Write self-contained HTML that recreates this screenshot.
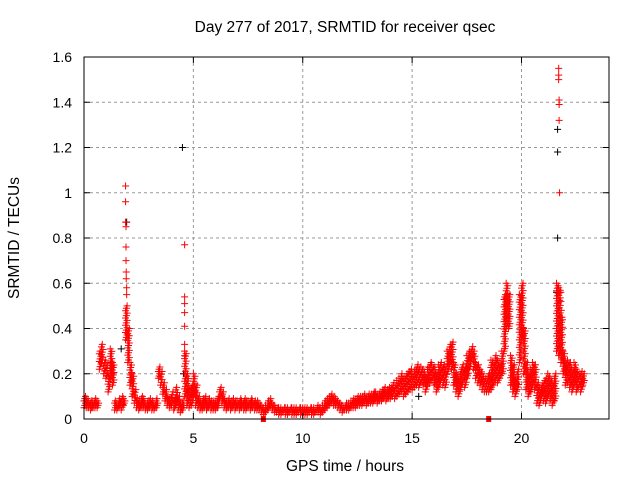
<!DOCTYPE html>
<html><head><meta charset="utf-8"><style>
body{margin:0;background:#fff}
svg{display:block;font-family:"Liberation Sans",Arial,sans-serif}
</style></head><body>
<svg id="chart" width="640" height="480" xmlns="http://www.w3.org/2000/svg">
<rect width="640" height="480" fill="#fff"/>
<text x="345" y="32" font-size="15.5" text-anchor="middle">Day 277 of 2017, SRMTID for receiver qsec</text>
<text transform="translate(19,238) rotate(-90)" font-size="15.5" text-anchor="middle">SRMTID / TECUs</text>
<text x="345" y="471" font-size="15.5" text-anchor="middle">GPS time / hours</text>
<g id="grid"></g><g id="marks"></g><g id="axes"></g>
</svg>
<script>
const xTicks=[0,5,10,15,20];
const yTicks=[0,0.2,0.4,0.6,0.8,1,1.2,1.4,1.6];
const yTickLabels=["0","0.2","0.4","0.6","0.8","1","1.2","1.4","1.6"];
const lowVals=[.05,.05,.05,.04,.05,.05,.05,.22,.25,.20,.18,.12,.18,.15,.04,.04,.05,.04,.06,.35,.25,
.15,.10,.07,.05,.04,.05,.05,.04,.04,.05,.04,.04,.05,.18,.15,.11,.08,.06,.05,.06,.04,.06,.04,.03,.04,
.10,.06,.05,.06,.10,.06,.05,.04,.04,.05,.04,.05,.04,.04,
.04,.05,.09,.07,.05,.04,.05,.04,.05,.04,.05,.04,.05,.04,.04,.05,.04,.05,.04,.04,
.04,.03,.02,.03,.04,.05,.04,.03,.03,.02,.02,.03,.02,.02,.03,.02,.02,.02,.03,.02,
.02,.02,.02,.03,.02,.02,.03,.03,.02,.03,.04,.05,.06,.07,.06,.06,.05,.04,.03,.04,
.04,.04,.05,.05,.05,.06,.06,.06,.07,.06,.07,.07,.07,.08,.07,.08,.08,.09,.08,.09,
.09,.10,.09,.10,.11,.12,.10,.11,.12,.13,.13,.14,.15,.14,.16,.15,.12,.15,.16,.17,
.15,.12,.14,.17,.15,.14,.20,.24,.22,.15,.12,.10,.13,.16,.14,.18,.22,.26,.22,.18,
.16,.15,.13,.12,.12,.12,.13,.15,.17,.16,.18,.20,.30,.40,.40,.15,.12,.10,.13,.25,
.35,.20,.13,.10,.12,.15,.13,.07,.06,.10,
.08,.07,.10,.08,.06,.08,.30,.28,.25,.20,
.15,.16,.14,.12,.15,.12,.14,.12,.15];
const highVals=[.10,.09,.08,.08,.08,.09,.08,.30,.33,.26,.25,.20,.31,.25,.08,.07,.09,.10,.09,.50,.40,
.25,.20,.13,.09,.08,.10,.09,.07,.08,.09,.08,.07,.09,.23,.21,.16,.13,.10,.09,.12,.09,.14,.10,.07,.08,
.30,.20,.13,.15,.20,.15,.10,.08,.09,.10,.08,.09,.08,.08,
.08,.10,.14,.12,.09,.08,.09,.08,.09,.08,.08,.09,.08,.09,.08,.08,.09,.08,.08,.08,
.07,.06,.05,.06,.08,.09,.07,.06,.05,.05,.05,.05,.05,.05,.05,.05,.05,.05,.05,.05,
.05,.05,.05,.05,.05,.05,.05,.06,.05,.06,.08,.09,.10,.11,.10,.09,.08,.07,.06,.06,
.07,.07,.08,.09,.09,.10,.10,.10,.11,.10,.11,.11,.12,.12,.11,.12,.13,.14,.13,.14,
.14,.16,.15,.17,.18,.20,.18,.20,.21,.22,.20,.22,.24,.22,.23,.22,.19,.23,.25,.24,
.23,.20,.24,.25,.24,.22,.30,.33,.34,.25,.20,.18,.22,.24,.23,.28,.30,.32,.30,.25,
.24,.22,.20,.18,.18,.20,.26,.25,.28,.26,.24,.30,.55,.60,.55,.28,.24,.18,.22,.55,
.60,.40,.25,.20,.22,.25,.24,.16,.14,.15,
.17,.18,.20,.18,.16,.20,.60,.58,.45,.30,
.25,.26,.25,.22,.25,.22,.20,.21,.20];
const sampleStep=0.1;
const spikeTimes=[1.9,1.9,1.9,1.92,1.92,1.92,1.93,1.93,1.95,1.95,4.6,4.6,4.6,4.6,4.6,4.6,4.6,21.7,21.7,21.7,21.72,21.72,21.72,21.74,21.8,21.8,21.82,21.85];
const spikeVals=[1.03,.96,.87,.85,.76,.70,.65,.62,.58,.55,.77,.54,.51,.47,.41,.33,.28,1.55,1.52,1.50,1.41,1.39,1.32,1.0,.56,.52,.48,.45];
const blackTimes=[4.5,21.65,21.65,21.65,21.6,1.95,1.7,4.55,15.3,19.3];
const blackVals=[1.2,1.28,1.18,.8,.56,.87,.31,.2,.1,.45];
const squareTimes=[8.2,18.5];
const squareVals=[0,0];

const L=84,R=609,T=57,B=419,XMAX=24,YMAX=1.6;
const xs=v=>L+v/XMAX*(R-L), ys=v=>B-v/YMAX*(B-T);
const NS="http://www.w3.org/2000/svg";
function mk(tag,attrs,parent){const e=document.createElementNS(NS,tag);for(const k in attrs)e.setAttribute(k,attrs[k]);parent.appendChild(e);return e;}
const grid=document.getElementById('grid'),marks=document.getElementById('marks'),axes=document.getElementById('axes');
xTicks.forEach((t,i)=>{
  const x=xs(t);
  if(t>0){const g=mk('line',{x1:x,x2:x,y1:T,y2:B,stroke:'#999','stroke-dasharray':'3,3'},grid);
  
  }
  mk('line',{x1:x,x2:x,y1:B,y2:B-6,stroke:'#000'},axes);
  mk('line',{x1:x,x2:x,y1:T,y2:T+6,stroke:'#000'},axes);
  const tx=mk('text',{x:x,y:443,'font-size':14,'text-anchor':'middle'},axes);tx.textContent=String(t);
  
  
});
yTicks.forEach((t,i)=>{
  const y=ys(t);
  if(t>0&&t<YMAX){const g=mk('line',{x1:L,x2:R,y1:y,y2:y,stroke:'#999','stroke-dasharray':'3,3'},grid);
  
  }
  mk('line',{x1:L,x2:L+6,y1:y,y2:y,stroke:'#000'},axes);
  mk('line',{x1:R,x2:R-6,y1:y,y2:y,stroke:'#000'},axes);
  const tx=mk('text',{x:72,y:y+5,'font-size':14,'text-anchor':'end'},axes);tx.textContent=yTickLabels[i];
  
  
});
const frame=mk('rect',{x:L,y:T,width:R-L,height:B-T,fill:'none',stroke:'#000'},axes);


function cross(t,v,color,name){
  const x=xs(t),y=ys(v);
  const p=mk('path',{d:`M${x-3.5},${y}h7M${x},${y-3.5}v7`,stroke:color,'stroke-width':1,fill:'none'},marks);
  
  
}
blackTimes.forEach((t,i)=>cross(t,blackVals[i],'#000','black-point'));
// each sample spans a band between its low and high value; fill the band with crosses
lowVals.forEach((v,i)=>{
  const t=i*sampleStep, hi=highVals[i];
  const y0=ys(v), y1=ys(hi);
  const n=Math.max(1,Math.round((y0-y1)/2.5));
  for(let k=0;k<=n;k++){
    const val=v+(hi-v)*k/n;
    cross(t+(k%3)*0.035,val,'#f00','red-point');
  }
});
spikeTimes.forEach((t,i)=>cross(t,spikeVals[i],'#f00','red-spike-point'));
squareTimes.forEach((t,i)=>{
  const s=mk('rect',{x:xs(t)-2.5,y:ys(squareVals[i])-3,width:5,height:6,fill:'#f00'},marks);
  
  
});
</script>
</body></html>
